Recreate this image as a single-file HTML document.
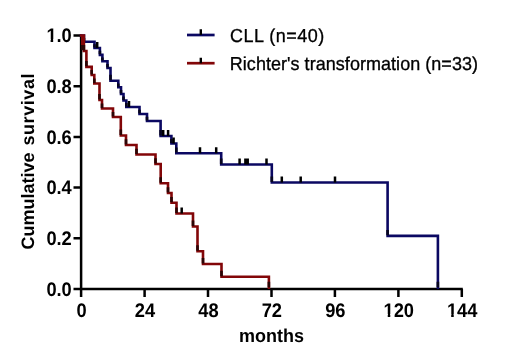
<!DOCTYPE html>
<html><head><meta charset="utf-8"><style>
html,body{margin:0;padding:0;background:#fff;}
svg{display:block;will-change:transform;}
text{font-family:"Liberation Sans",sans-serif;text-rendering:geometricPrecision;}
</style></head><body>
<svg width="520" height="364" viewBox="0 0 520 364">
<rect width="520" height="364" fill="#fff"/>
<path d="M81.1,34.5V290.0M80.1,289.0H462.8M73.5,35.5H81.1M73.5,86.2H81.1M73.5,136.9H81.1M73.5,187.6H81.1M73.5,238.3H81.1M73.5,289.0H81.1M81.1,289.0V297M144.6,289.0V297M208.0,289.0V297M271.5,289.0V297M334.9,289.0V297M398.4,289.0V297M461.8,289.0V297" stroke="#000" stroke-width="2.5" fill="none"/>
<path d="M81.1,35.5H84.0V41.7H94.5V48.0H99.9V54.9H102.4V61.2H107.5V68.0H110.5V80.8H118.3V87.3H121.0V94.0H123.5V100.5H126.3V107.0H139.5V114.0H147.0V121.0H160.6V136.0H171.4V143.5H176.3V153.2H221.2V164.5H271.8V182.5H387.6V235.9H437.9V287.8" stroke="#0b0862" stroke-width="2.6" fill="none" stroke-linejoin="miter" stroke-linecap="square"/>
<path d="M84.0,38.0V41.1M94.5,44.2V47.4M99.9,50.8V54.3M102.4,57.4V60.6M107.5,63.9V67.4M110.5,74.8V80.2M118.3,83.4V86.7M121.0,90.0V93.4M123.5,96.6V99.9M126.3,103.1V106.4M139.5,109.8V113.4M147.0,116.8V120.4M160.6,130.0V135.4M171.4,139.0V142.9M176.3,147.4V152.6M221.2,158.5V163.9M271.8,176.5V181.9M387.6,229.9V235.3M437.9,281.8V287.2" stroke="#08061e" stroke-width="2.6" fill="none"/>
<path d="M81.1,35.5H83.9V51.0H86.4V66.9H91.7V75.0H94.3V83.5H99.5V100.0H102.0V108.5H113.0V117.0H120.8V135.5H126.0V145.0H136.5V154.5H155.5V164.0H160.7V183.3H168.0V193.0H171.5V202.8H176.5V213.5H193.0V226.5H197.5V251.3H203.0V264.0H221.5V276.8H268.9V287.8" stroke="#820608" stroke-width="2.6" fill="none" stroke-linejoin="miter" stroke-linecap="square"/>
<path d="M82.3,35.5V50" stroke="#820608" stroke-width="2.6" fill="none"/>
<path d="M83.9,45.0V50.4M86.4,60.9V66.3M91.7,70.1V74.4M94.3,78.4V82.9M99.5,94.0V99.4M102.0,103.4V107.9M113.0,111.9V116.4M120.8,129.5V134.9M126.0,139.3V144.4M136.5,148.8V153.9M155.5,158.3V163.4M160.7,177.3V182.7M168.0,187.2V192.4M171.5,196.9V202.2M176.5,207.5V212.9M193.0,220.5V225.9M197.5,245.3V250.7M203.0,258.0V263.4M221.5,270.8V276.2M268.9,281.8V287.2M82.3,45V50" stroke="#2a0606" stroke-width="2.6" fill="none"/>
<path d="M97.2,48.0V42.0M129.0,107.0V101.0M163.2,136.0V130.0M168.1,136.0V130.0M173.6,143.5V137.5M200.0,153.2V147.2M216.2,153.2V147.2M239.6,164.5V158.5M245.4,164.5V158.5M247.7,164.5V158.5M266.5,164.5V158.5M281.8,182.5V176.5M300.7,182.5V176.5M335.0,182.5V176.5M181.7,213.5V207.5" stroke="#000" stroke-width="2.5" fill="none"/>
<path d="M187,35H214.6" stroke="#0b0862" stroke-width="2.7"/>
<path d="M187,63.2H214.6" stroke="#820608" stroke-width="2.7"/>
<path d="M200.8,35V29.3M200.8,63.2V57.7" stroke="#000" stroke-width="2.4"/>
<text transform="translate(230.00,41.50) scale(1,1.045)" x="0" y="0" font-family="Liberation Sans, sans-serif" font-size="18" font-weight="normal" text-anchor="start" textLength="94.2" lengthAdjust="spacing" stroke="#000" stroke-width="0.3">CLL (n=40)</text>
<text transform="translate(229.80,69.50) scale(1,1.045)" x="0" y="0" font-family="Liberation Sans, sans-serif" font-size="18" font-weight="normal" text-anchor="start" textLength="248.2" lengthAdjust="spacing" stroke="#000" stroke-width="0.3">Richter's transformation (n=33)</text>
<text transform="translate(71.80,42.20) scale(1,1.07)" x="0" y="0" font-family="Liberation Sans, sans-serif" font-size="18.3" font-weight="bold" text-anchor="end" >1.0</text>
<text transform="translate(71.80,92.90) scale(1,1.07)" x="0" y="0" font-family="Liberation Sans, sans-serif" font-size="18.3" font-weight="bold" text-anchor="end" >0.8</text>
<text transform="translate(71.80,143.60) scale(1,1.07)" x="0" y="0" font-family="Liberation Sans, sans-serif" font-size="18.3" font-weight="bold" text-anchor="end" >0.6</text>
<text transform="translate(71.80,194.30) scale(1,1.07)" x="0" y="0" font-family="Liberation Sans, sans-serif" font-size="18.3" font-weight="bold" text-anchor="end" >0.4</text>
<text transform="translate(71.80,245.00) scale(1,1.07)" x="0" y="0" font-family="Liberation Sans, sans-serif" font-size="18.3" font-weight="bold" text-anchor="end" >0.2</text>
<text transform="translate(71.80,295.70) scale(1,1.07)" x="0" y="0" font-family="Liberation Sans, sans-serif" font-size="18.3" font-weight="bold" text-anchor="end" >0.0</text>
<text transform="translate(81.50,317.00) scale(1,1.07)" x="0" y="0" font-family="Liberation Sans, sans-serif" font-size="18.3" font-weight="bold" text-anchor="middle" >0</text>
<text transform="translate(144.95,317.00) scale(1,1.07)" x="0" y="0" font-family="Liberation Sans, sans-serif" font-size="18.3" font-weight="bold" text-anchor="middle" >24</text>
<text transform="translate(208.40,317.00) scale(1,1.07)" x="0" y="0" font-family="Liberation Sans, sans-serif" font-size="18.3" font-weight="bold" text-anchor="middle" >48</text>
<text transform="translate(271.85,317.00) scale(1,1.07)" x="0" y="0" font-family="Liberation Sans, sans-serif" font-size="18.3" font-weight="bold" text-anchor="middle" >72</text>
<text transform="translate(335.30,317.00) scale(1,1.07)" x="0" y="0" font-family="Liberation Sans, sans-serif" font-size="18.3" font-weight="bold" text-anchor="middle" >96</text>
<text transform="translate(398.75,317.00) scale(1,1.07)" x="0" y="0" font-family="Liberation Sans, sans-serif" font-size="18.3" font-weight="bold" text-anchor="middle" >120</text>
<text transform="translate(462.20,317.00) scale(1,1.07)" x="0" y="0" font-family="Liberation Sans, sans-serif" font-size="18.3" font-weight="bold" text-anchor="middle" >144</text>
<text transform="translate(271.40,342.00) scale(1,1.045)" x="0" y="0" font-family="Liberation Sans, sans-serif" font-size="18" font-weight="bold" text-anchor="middle" >months</text>
<rect x="46.31" y="39.20" width="4.30" height="3.70" fill="#fff"/><rect x="53.16" y="39.20" width="4.07" height="3.70" fill="#fff"/>
<rect x="383.44" y="314.00" width="4.30" height="3.70" fill="#fff"/><rect x="390.29" y="314.00" width="4.07" height="3.70" fill="#fff"/>
<rect x="446.89" y="314.00" width="4.30" height="3.70" fill="#fff"/><rect x="453.74" y="314.00" width="4.07" height="3.70" fill="#fff"/>
<text transform="translate(34,249.6) rotate(-90)" x="0" y="0" font-family="Liberation Sans, sans-serif" font-size="18" font-weight="bold">Cumulative</text>
<text transform="translate(34,145.5) rotate(-90)" x="0" y="0" font-family="Liberation Sans, sans-serif" font-size="18" font-weight="bold" textLength="72" lengthAdjust="spacing">survival</text>
</svg>
</body></html>
